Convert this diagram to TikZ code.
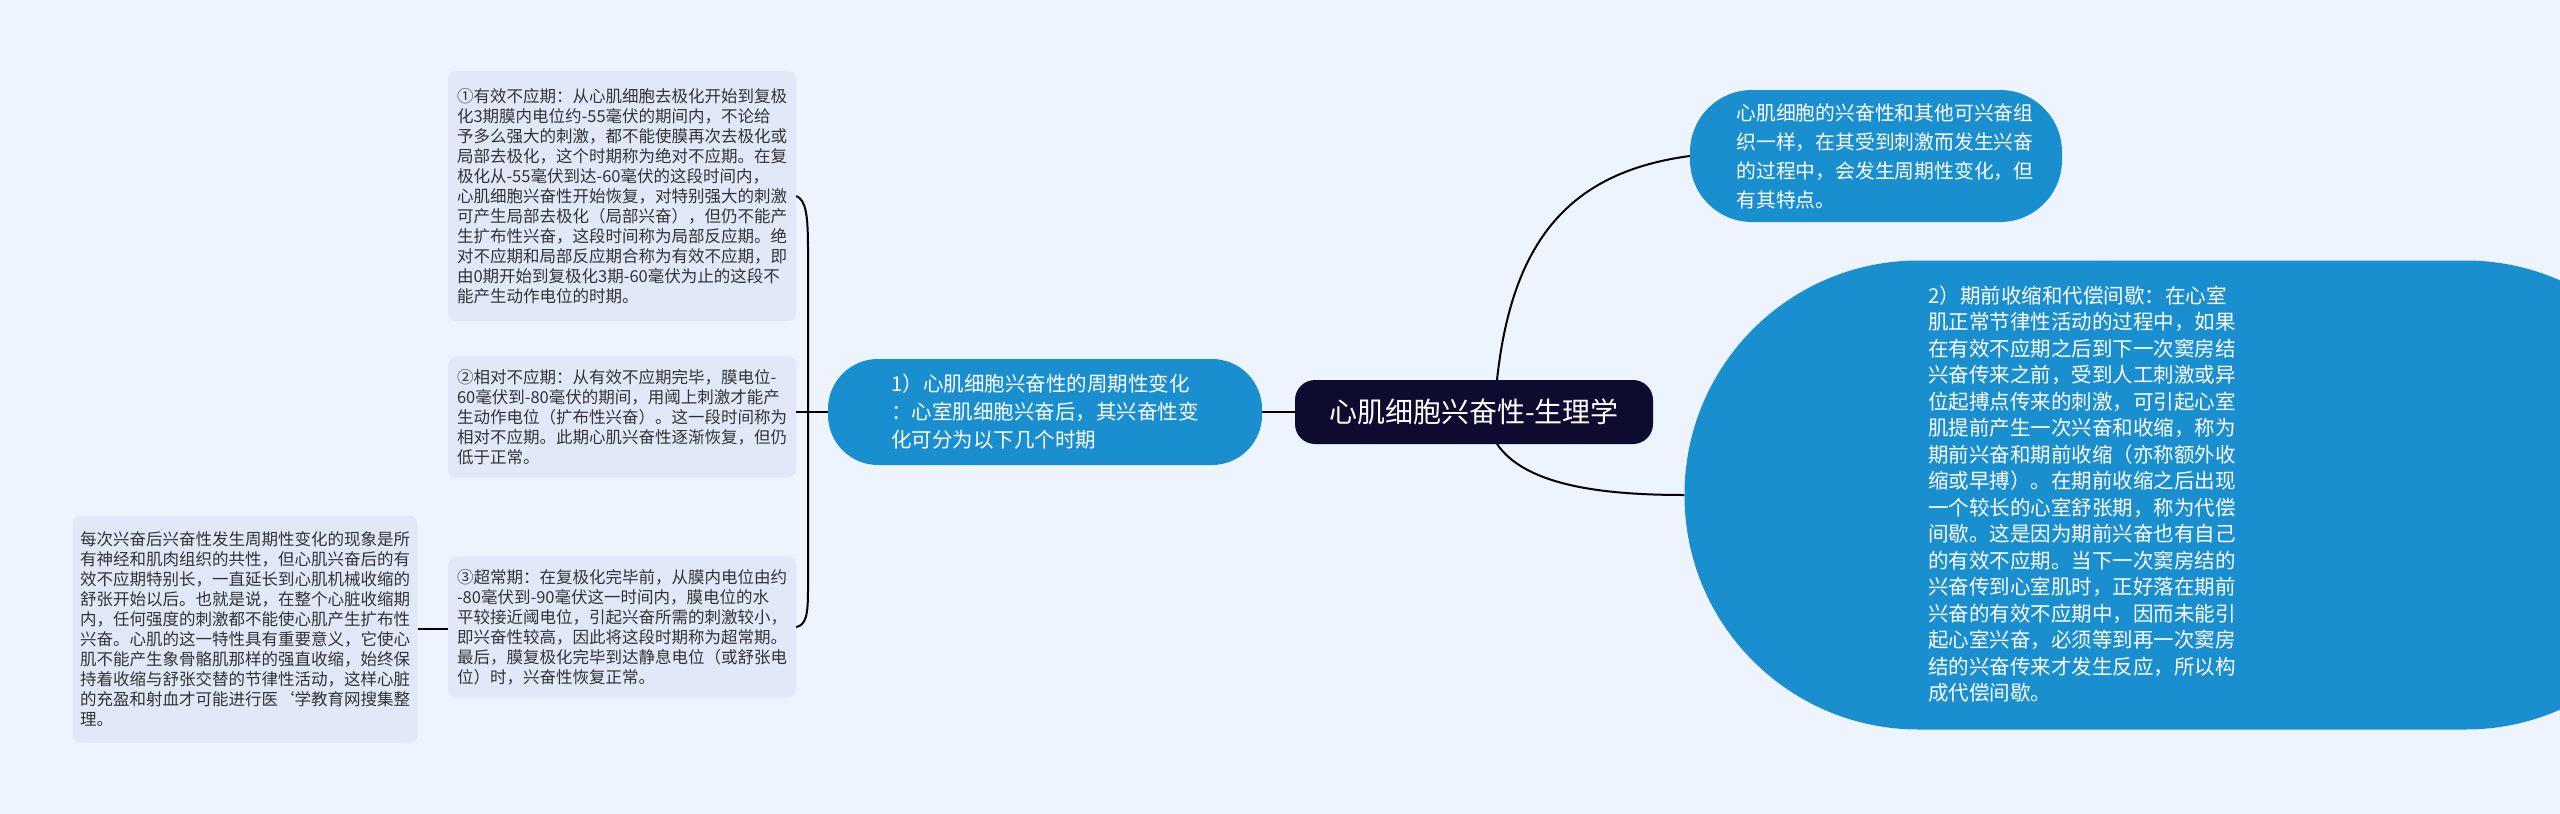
\documentclass[tikz,border=0pt]{standalone}
\usepackage{fontspec}
\setmainfont{Noto Sans CJK SC}
\begin{document}
\begin{tikzpicture}[x=1pt,y=-1pt,
  leaf/.style={fill=leafc,rounded corners=8pt,align=left,font=\fontsize{16.5}{20}\selectfont,text=black!80,inner sep=0pt,minimum width=348pt,anchor=center},
  bluebox/.style={fill=bluec,text=white,align=left,inner sep=0pt,font=\fontsize{20.5}{28}\selectfont},
  link/.style={draw=black,line width=2pt}]
\definecolor{bgc}{HTML}{EEF4FD}
\definecolor{leafc}{HTML}{E1E9F8}
\definecolor{bluec}{HTML}{1A8FD0}
\definecolor{navyc}{HTML}{0E0B30}
\useasboundingbox[fill=bgc] (0,0) rectangle (2560,814);
% central
\node[fill=navyc,text=white,rounded corners=20pt,minimum width=358pt,minimum height=64pt,font=\fontsize{28}{32}\selectfont] (central) at (1474,412) {心肌细胞兴奋性-生理学};
% branch 1
\node[bluebox,rounded corners=50pt,minimum width=434pt,minimum height=106pt] (branch) at (1045,412) {1）心肌细胞兴奋性的周期性变化\\：心室肌细胞兴奋后，其兴奋性变\\化可分为以下几个时期};
% top right
\node[bluebox,rounded corners=62pt,minimum height=132pt,minimum width=372pt,font=\fontsize{19.8}{29}\selectfont] (tr) at (1876,156) {\hspace*{18pt}心肌细胞的兴奋性和其他可兴奋组\\\hspace*{18pt}织一样，在其受到刺激而发生兴奋\\\hspace*{18pt}的过程中，会发生周期性变化，但\\\hspace*{18pt}有其特点。};
% big right
\node[fill=bluec,rounded corners=234pt,minimum width=1015pt,minimum height=469pt,inner sep=0pt] (big) at (2192,495) {};
\node[bluebox,font=\fontsize{20.5}{26.5}\selectfont] (bigtext) at (2082,494) {2）期前收缩和代偿间歇：在心室\\肌正常节律性活动的过程中，如果\\在有效不应期之后到下一次窦房结\\兴奋传来之前，受到人工刺激或异\\位起搏点传来的刺激，可引起心室\\肌提前产生一次兴奋和收缩，称为\\期前兴奋和期前收缩（亦称额外收\\缩或早搏）。在期前收缩之后出现\\一个较长的心室舒张期，称为代偿\\间歇。这是因为期前兴奋也有自己\\的有效不应期。当下一次窦房结的\\兴奋传到心室肌时，正好落在期前\\兴奋的有效不应期中，因而未能引\\起心室兴奋，必须等到再一次窦房\\结的兴奋传来才发生反应，所以构\\成代偿间歇。};
% leaves
\node[leaf,minimum height=250pt] (l1) at (622,196) {①有效不应期：从心肌细胞去极化开始到复极\\化3期膜内电位约-55毫伏的期间内，不论给\\予多么强大的刺激，都不能使膜再次去极化或\\局部去极化，这个时期称为绝对不应期。在复\\极化从-55毫伏到达-60毫伏的这段时间内，\\心肌细胞兴奋性开始恢复，对特别强大的刺激\\可产生局部去极化（局部兴奋），但仍不能产\\生扩布性兴奋，这段时间称为局部反应期。绝\\对不应期和局部反应期合称为有效不应期，即\\由0期开始到复极化3期-60毫伏为止的这段不\\能产生动作电位的时期。};
\node[leaf,minimum height=121pt] (l2) at (622,417) {②相对不应期：从有效不应期完毕，膜电位-\\60毫伏到-80毫伏的期间，用阈上刺激才能产\\生动作电位（扩布性兴奋）。这一段时间称为\\相对不应期。此期心肌兴奋性逐渐恢复，但仍\\低于正常。};
\node[leaf,minimum height=141pt] (l3) at (622,627) {③超常期：在复极化完毕前，从膜内电位由约\\-80毫伏到-90毫伏这一时间内，膜电位的水\\平较接近阈电位，引起兴奋所需的刺激较小，\\即兴奋性较高，因此将这段时期称为超常期。\\最后，膜复极化完毕到达静息电位（或舒张电\\位）时，兴奋性恢复正常。};
\node[leaf,minimum width=345pt,minimum height=227pt] (l4) at (245,629) {每次兴奋后兴奋性发生周期性变化的现象是所\\有神经和肌肉组织的共性，但心肌兴奋后的有\\效不应期特别长，一直延长到心肌机械收缩的\\舒张开始以后。也就是说，在整个心脏收缩期\\内，任何强度的刺激都不能使心肌产生扩布性\\兴奋。心肌的这一特性具有重要意义，它使心\\肌不能产生象骨骼肌那样的强直收缩，始终保\\持着收缩与舒张交替的节律性活动，这样心脏\\的充盈和射血才可能进行医\char96 学教育网搜集整\\理。};
% connectors
\coordinate (bt) at (808,250);
\coordinate (bb) at (808,590);
\draw[link] (central.west) -- (branch.west -| branch.east);
\draw[link] (branch.west) -- (808,412) -- (l2.east |- 808,412);
\draw[link] (l1.east) .. controls (806,200) and (808,215) .. (bt) -- (bb) .. controls (808,615) and (806,625) .. (l3.east);
\draw[link] (l4.east) -- (l3.west |- l4.east);
\draw[link] (1497,380) .. controls (1512,240) and (1570,172) .. (tr.west);
\draw[link] (1497,444) .. controls (1525,485) and (1600,495) .. (big.west);
\end{tikzpicture}
\end{document}
